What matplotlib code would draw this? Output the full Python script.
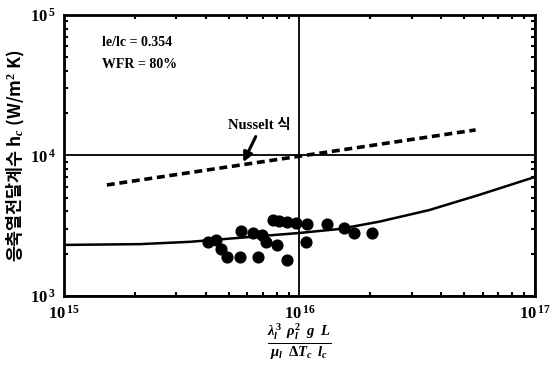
import numpy as np
import matplotlib.pyplot as plt
from matplotlib.ticker import LogLocator, NullFormatter

plt.rcParams['font.family'] = ['Liberation Serif', 'Noto Sans CJK KR', 'DejaVu Sans']
plt.rcParams['mathtext.fontset'] = 'custom'
plt.rcParams['mathtext.rm'] = 'Liberation Serif:bold'
plt.rcParams['mathtext.it'] = 'Liberation Serif:italic:bold'
plt.rcParams['mathtext.bf'] = 'Liberation Serif:bold'

# measured data (condensation heat transfer coefficient)
x_meas = [4.07e15, 4.41e15, 4.63e15, 4.91e15, 5.57e15, 6.64e15, 8.89e15,
          5.62e15, 6.32e15, 6.90e15, 7.18e15, 7.99e15, 7.69e15, 8.15e15,
          8.81e15, 9.71e15, 1.08e16, 1.07e16, 1.31e16, 1.54e16, 1.71e16, 2.04e16]
h_meas = [2.42e3, 2.50e3, 2.16e3, 1.90e3, 1.90e3, 1.90e3, 1.80e3,
          2.90e3, 2.81e3, 2.72e3, 2.42e3, 2.31e3, 3.48e3, 3.42e3,
          3.36e3, 3.31e3, 3.25e3, 2.42e3, 3.25e3, 3.05e3, 2.81e3, 2.81e3]

# correlation curve
x_fit = [1e15, 2.10e15, 3.42e15, 6.14e15, 1e16, 1.48e16, 2.18e16, 3.56e16, 5.79e16, 1e17]
h_fit = [2.31e3, 2.34e3, 2.43e3, 2.63e3, 2.81e3, 3.00e3, 3.38e3, 4.09e3, 5.24e3, 7.03e3]

# Nusselt
x_nu = [1.52e15, 5.6e16]
h_nu = [6.17e3, 1.52e4]

xticks = [1e15, 1e16, 1e17]
xlabels = [r'$10^{\,15}$', r'$10^{\,16}$', r'$10^{\,17}$']
yticks = [1e3, 1e4, 1e5]
ylabels = [r'$10^{\,3}$', r'$10^{\,4}$', r'$10^{\,5}$']

fig = plt.figure(figsize=(5.52, 3.65), dpi=100)
ax = fig.add_axes([0.116, 0.189, 0.853, 0.770])

ax.plot(x_fit, h_fit, color='k', lw=1.8)
ax.plot(x_nu, h_nu, color='k', lw=2.6, ls=(0, (2.2, 1.3)))
ax.scatter(x_meas, h_meas, s=60, color='k', zorder=3)

ax.set_xscale('log')
ax.set_yscale('log')
ax.set_xlim(1e15, 1e17)
ax.set_ylim(1e3, 1e5)
ax.set_xticks(xticks)
ax.set_xticklabels(xlabels)
ax.set_yticks(yticks)
ax.set_yticklabels(ylabels)
ax.xaxis.set_minor_locator(LogLocator(base=10, subs=np.arange(2, 10)))
ax.yaxis.set_minor_locator(LogLocator(base=10, subs=np.arange(2, 10)))
ax.xaxis.set_minor_formatter(NullFormatter())
ax.yaxis.set_minor_formatter(NullFormatter())
ax.tick_params(which='both', direction='in', top=True, right=True, labelsize=12)
ax.tick_params(which='major', length=0, pad=6)
ax.tick_params(which='minor', length=3, width=1.5)
ax.grid(which='major', color='k', lw=1.3)
for s in ax.spines.values():
    s.set_linewidth(2)

ax.text(0.08, 0.89, 'le/lc = 0.354', transform=ax.transAxes, fontsize=10, fontweight='bold')
ax.text(0.08, 0.81, 'WFR = 80%', transform=ax.transAxes, fontsize=10, fontweight='bold')
ax.text(4.95e15, 1.63e4, 'Nusselt 식', fontsize=10.5, fontweight='bold', va='center')
ax.annotate('', xy=(5.7e15, 8.6e3), xytext=(6.6e15, 1.42e4),
            arrowprops=dict(arrowstyle='-|>', color='k', lw=2.2, mutation_scale=14))

ax.set_xlabel(r'$\frac{\lambda_l^3\;\;\rho_l^2\;\;g\;\;L}{\mu_l\;\;\Delta T_c\;\;l_c}$', fontsize=15, labelpad=-1)
ax.set_ylabel('응축열전달계수 h$_c$ (W/m$^2$ K)', fontsize=12.5, fontweight='bold',
              family=['Noto Sans CJK KR', 'Liberation Serif'], labelpad=2)

fig.savefig('out.png', dpi=100)
